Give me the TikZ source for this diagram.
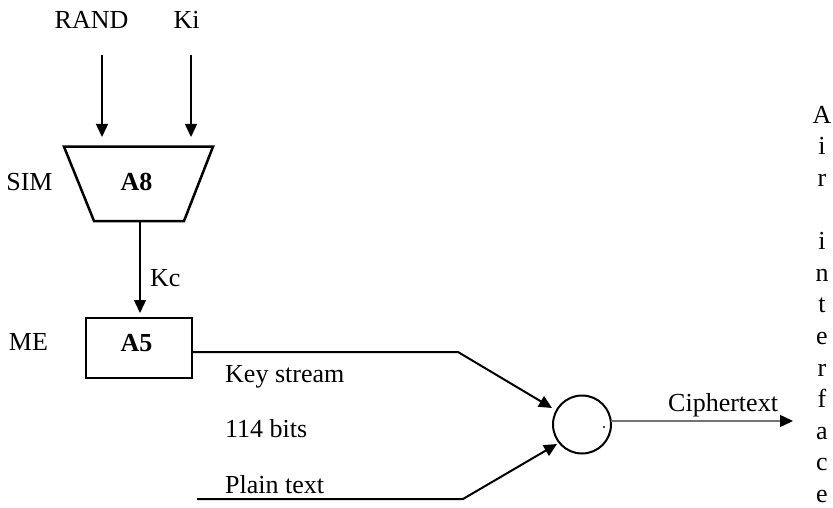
\documentclass[tikz,border=0pt]{standalone}
\usepackage{fontspec}
\setmainfont{Liberation Serif}
\usetikzlibrary{arrows.meta}
\begin{document}
\begin{tikzpicture}[x=1pt,y=-1pt,
  lbl/.style={anchor=base, inner sep=0pt, font=\fontsize{26}{31.9}\selectfont},
  lblw/.style={lbl, anchor=base west},
  boldlbl/.style={lbl, font=\fontsize{26}{31.9}\selectfont\bfseries},
  outline/.style={draw=black, line width=2.5pt, line join=miter},
  tip/.style={-{Triangle[length=13pt,width=12pt]}},
  flow/.style={draw=black, line width=1.5pt, tip},
  stream/.style={draw=black, line width=2pt, tip},
  outflow/.style={draw=black!55, line width=1.5pt, -{Triangle[length=13pt,width=12pt,color=black,fill=black]}}]
\useasboundingbox (0,0) rectangle (833,508);

% inputs
\node[lbl] (rand) at (91.5,29) {RAND};
\node[lbl] (ki) at (186.5,29) {Ki};
\coordinate (randtop) at (102,55);
\coordinate (kitop) at (191,55);
\coordinate (randin) at (102,137);
\coordinate (kiin) at (191,137);

% A8 block on the SIM
\coordinate (tl) at (64,146.7);
\coordinate (tr) at (213,146.7);
\coordinate (br) at (184,221);
\coordinate (bl) at (94,221);
\draw[outline] (tl) -- (tr) -- (br) -- (bl) -- cycle;
\node[boldlbl] (a8) at (136.5,190) {A8};
\node[lbl] (sim) at (29.5,190) {SIM};

\draw[flow] (randtop) -- (randin);
\draw[flow] (kitop) -- (kiin);

% Kc into A5
\coordinate (a8out) at (140,221);
\coordinate (a5in) at (140,313);
\draw[flow] (a8out) -- (a5in);
\node[lblw] (kc) at (150,286) {Kc};

% A5 block on the ME
\node[outline, minimum width=106pt, minimum height=60pt, inner sep=0pt] (a5) at (139,348) {};
\node[boldlbl] (a5lbl) at (136.5,351) {A5};
\node[lbl] (me) at (28.5,350) {ME};

% XOR
\node[circle, draw=black, line width=2pt, minimum size=58pt, inner sep=0pt] (xor) at (582,424.5) {};
\fill (604,427) circle (1.1pt);

% key stream and plain text
\coordinate (ksrc) at (192,352);
\coordinate (kbend) at (458,352);
\coordinate (kin) at (552,408);
\draw[stream] (ksrc) -- (kbend) -- (kin);
\coordinate (psrc) at (197,499);
\coordinate (pbend) at (463,499);
\coordinate (pin) at (557,444);
\draw[stream] (psrc) -- (pbend) -- (pin);
\node[lblw] (keystream) at (225,382) {Key stream};
\node[lblw] (bits) at (225,437) {114 bits};
\node[lblw] (plain) at (225,493) {Plain text};

% ciphertext out
\coordinate (cout) at (610.5,421);
\coordinate (ctip) at (793,421);
\draw[outflow] (cout) -- (ctip);
\node[lblw] (cipher) at (668,411) {Ciphertext};

% vertical caption
\foreach \ch [count=\i] in {A,i,r,{},i,n,t,e,r,f,a,c,e}
  \node[lbl] (air\i) at (822,{123.2+31.6*(\i-1)}) {\ch};
\end{tikzpicture}
\end{document}
